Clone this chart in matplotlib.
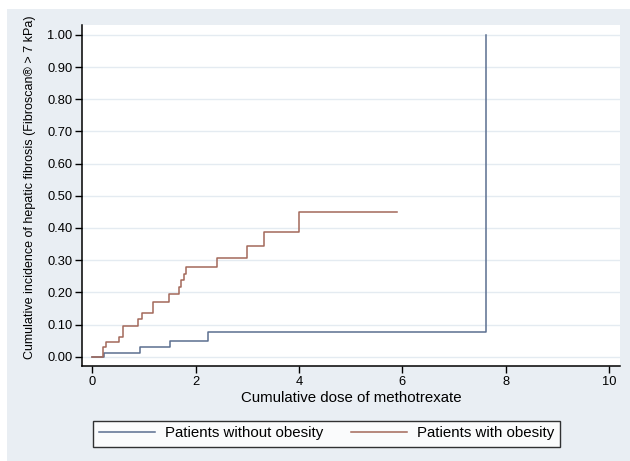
import matplotlib
matplotlib.use("Agg")
import matplotlib.pyplot as plt
from matplotlib.patches import Rectangle

plt.rcParams['font.family'] = ['Liberation Sans', 'DejaVu Sans']

# Patients without obesity
dose_no = [0, 0.23, 0.93, 1.50, 2.23, 7.61]
inc_no = [0, 0.0124, 0.031, 0.050, 0.078, 1.00]

# Patients with obesity
dose_ob = [0, 0.20, 0.26, 0.52, 0.60, 0.89, 0.955, 1.17, 1.49, 1.68, 1.716,
           1.78, 1.81, 2.41, 3.00, 3.33, 4.00, 5.89]
inc_ob = [0, 0.031, 0.047, 0.062, 0.095, 0.116, 0.135, 0.171, 0.195, 0.216,
          0.237, 0.257, 0.280, 0.306, 0.343, 0.389, 0.449, 0.449]

xticks = [0, 2, 4, 6, 8, 10]
yticks = [0.0, 0.1, 0.2, 0.3, 0.4, 0.5, 0.6, 0.7, 0.8, 0.9, 1.0]

W, H = 630, 461
fig = plt.figure(figsize=(W / 100, H / 100), dpi=100)
fig.patch.set_facecolor('white')
bg = '#E9EEF3'
fig.add_artist(Rectangle((7 / W, 0), 1 - 7 / W, 1 - 9 / H, transform=fig.transFigure,
                         facecolor=bg, edgecolor='none', zorder=-10))

ax = fig.add_axes([82 / W, 1 - 366 / H, (620 - 82) / W, (366 - 25) / H])
ax.set_facecolor('white')

blue = '#5B6F90'
red = '#A3685A'
l1, = ax.step(dose_no, inc_no, where='post', color=blue, lw=1.1)
l2, = ax.step(dose_ob, inc_ob, where='post', color=red, lw=1.1)

ax.set_xlim(-0.2, 10.21)
ax.set_ylim(-0.029, 1.031)
ax.set_xticks(xticks)
ax.set_xticklabels([str(v) for v in xticks])
ax.set_yticks(yticks)
ax.set_yticklabels([f"{v:.2f}" for v in yticks])
ax.yaxis.grid(True, color='#E4EBF1', lw=1.0)
ax.set_axisbelow(True)
for s in ['top', 'right']:
    ax.spines[s].set_visible(False)
for s in ['left', 'bottom']:
    ax.spines[s].set_linewidth(1.1)
    ax.spines[s].set_color('black')
ax.tick_params(axis='both', direction='out', length=5, width=1.0, labelsize=9.3, colors='black', pad=2)

ax.set_xlabel('Cumulative dose of methotrexate', fontsize=10.8, labelpad=2)
ax.set_ylabel('Cumulative incidence of hepatic fibrosis (Fibroscan® > 7 kPa)', fontsize=9.0, labelpad=6)
ax.yaxis.set_label_coords(-0.085, 0.525)

leg = fig.legend([l1, l2], ['Patients without obesity', 'Patients with obesity'],
                 loc='center', bbox_to_anchor=((92 + 561) / 2 / W, 1 - 433.5 / H),
                 ncol=2, frameon=True, fancybox=False, fontsize=10.8,
                 handlelength=3.75, columnspacing=1.85, handletextpad=0.67,
                 borderpad=0.4, borderaxespad=0)
leg.get_frame().set_edgecolor('black')
leg.get_frame().set_linewidth(1.0)

fig.savefig('out.png', dpi=100, facecolor=fig.get_facecolor())
